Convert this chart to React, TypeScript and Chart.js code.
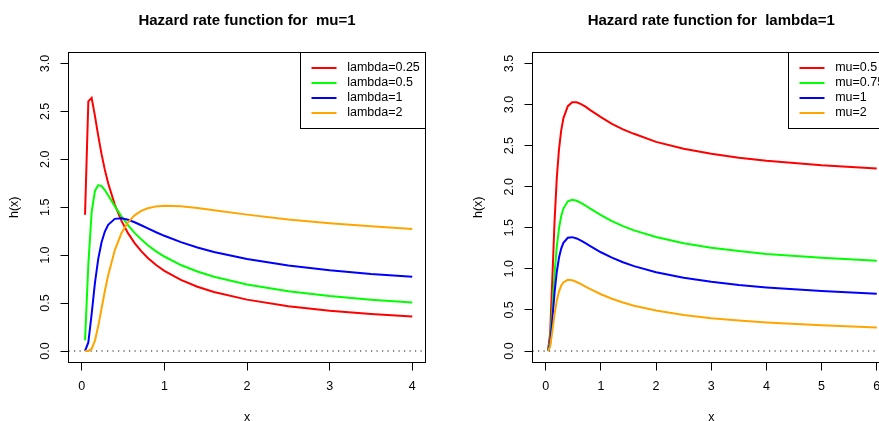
import React, { useEffect, useRef } from "react";
import { Chart, registerables } from "chart.js";

Chart.register(...registerables);

// ---------------- data ----------------
// Left panel: mu = 1, different lambda
const xLeft = [0.04, 0.08, 0.12, 0.16, 0.2, 0.24, 0.28, 0.32, 0.4, 0.48, 0.56, 0.64, 0.72, 0.8, 0.9, 1.0, 1.2, 1.4, 1.6, 2.0, 2.5, 3.0, 3.5, 4.0];
const hLambda025 = [1.422, 2.605, 2.642, 2.454, 2.244, 2.054, 1.89, 1.75, 1.528, 1.36, 1.23, 1.126, 1.042, 0.971, 0.897, 0.837, 0.742, 0.671, 0.616, 0.536, 0.468, 0.421, 0.386, 0.359];
const hLambda05 = [0.111, 0.903, 1.448, 1.67, 1.731, 1.721, 1.68, 1.626, 1.512, 1.406, 1.313, 1.233, 1.165, 1.104, 1.04, 0.986, 0.897, 0.829, 0.775, 0.693, 0.623, 0.574, 0.536, 0.507];
const hLambda1 = [0.001, 0.089, 0.385, 0.71, 0.962, 1.135, 1.247, 1.317, 1.379, 1.386, 1.37, 1.343, 1.312, 1.279, 1.239, 1.202, 1.136, 1.08, 1.033, 0.959, 0.892, 0.842, 0.803, 0.774];
const hLambda2 = [0.0, 0.001, 0.021, 0.107, 0.26, 0.443, 0.626, 0.791, 1.051, 1.228, 1.343, 1.416, 1.462, 1.49, 1.509, 1.515, 1.51, 1.491, 1.468, 1.423, 1.372, 1.333, 1.303, 1.273];
const leftLabels = ["lambda=0.25", "lambda=0.5", "lambda=1", "lambda=2"];

// Right panel: lambda = 1, different mu
const xRight = [0.04, 0.08, 0.12, 0.16, 0.2, 0.24, 0.28, 0.32, 0.4, 0.48, 0.56, 0.64, 0.72, 0.8, 1.0, 1.2, 1.4, 1.6, 2.0, 2.5, 3.0, 3.5, 4.0, 5.0, 6.0];
const hMu05 = [0.001, 0.215, 0.885, 1.582, 2.102, 2.455, 2.684, 2.832, 2.981, 3.028, 3.028, 3.006, 2.975, 2.936, 2.847, 2.766, 2.698, 2.644, 2.546, 2.462, 2.4, 2.352, 2.315, 2.26, 2.222];
const hMu075 = [0.001, 0.12, 0.514, 0.941, 1.269, 1.494, 1.641, 1.734, 1.822, 1.841, 1.829, 1.803, 1.771, 1.736, 1.654, 1.582, 1.521, 1.469, 1.387, 1.312, 1.258, 1.216, 1.182, 1.135, 1.099];
const hMu1 = [0.001, 0.089, 0.385, 0.71, 0.962, 1.135, 1.247, 1.317, 1.379, 1.386, 1.37, 1.343, 1.312, 1.279, 1.202, 1.136, 1.08, 1.033, 0.959, 0.892, 0.842, 0.803, 0.774, 0.729, 0.697];
const hMu2 = [0.0, 0.056, 0.243, 0.452, 0.614, 0.724, 0.794, 0.835, 0.866, 0.861, 0.84, 0.813, 0.784, 0.756, 0.691, 0.636, 0.59, 0.552, 0.493, 0.439, 0.4, 0.37, 0.347, 0.312, 0.287];
const rightLabels = ["mu=0.5", "mu=0.75", "mu=1", "mu=2"];

const seriesColors = ["#FF0000", "#00FF00", "#0000FF", "#FFA500"];

const leftXTicks = [0, 1, 2, 3, 4];
const leftYTicks = [0, 0.5, 1, 1.5, 2, 2.5, 3];
const rightXTicks = [0, 1, 2, 3, 4, 5, 6];
const rightYTicks = [0, 0.5, 1, 1.5, 2, 2.5, 3, 3.5];

const leftTitle = "Hazard rate function for  mu=1";
const rightTitle = "Hazard rate function for  lambda=1";

// ---------------- styling ----------------
const FONT = "'Liberation Sans', Arial, Helvetica, sans-serif";
const BASE = 12.5;

const boxPlugin = {
  id: "rBox",
  afterDraw(chart: any) {
    const { ctx, chartArea: a } = chart;
    ctx.save();
    ctx.strokeStyle = "#000";
    ctx.lineWidth = 1;
    const l = Math.floor(a.left) + 0.5;
    const t = Math.floor(a.top) + 0.5;
    const r = Math.floor(a.right) + 0.5;
    const b = Math.floor(a.bottom) + 0.5;
    ctx.strokeRect(l, t, r - l, b - t);
    ctx.restore();
  },
};

const legendPlugin = {
  id: "rLegend",
  afterDraw(chart: any) {
    const { ctx, chartArea: a } = chart;
    const items = chart.data.datasets.filter((d: any) => d.label);
    ctx.save();
    ctx.font = `${BASE}px ${FONT}`;
    const maxW = Math.max(...items.map((d: any) => ctx.measureText(d.label).width));
    const w = 46.7 + maxW + 6.2;
    const right = Math.floor(a.right) + 0.5;
    const left = Math.round(a.right - w) + 0.5;
    const top = Math.floor(a.top) + 0.5;
    const h = 76;
    ctx.fillStyle = "#fff";
    ctx.fillRect(left, top, right - left, h);
    ctx.strokeStyle = "#000";
    ctx.lineWidth = 1;
    ctx.strokeRect(left, top, right - left, h);
    items.forEach((d: any, i: number) => {
      const y = Math.round(a.top + 16 + i * 15);
      ctx.strokeStyle = d.borderColor;
      ctx.lineWidth = 2;
      ctx.beginPath();
      ctx.moveTo(left + 11, y);
      ctx.lineTo(left + 36, y);
      ctx.stroke();
      ctx.fillStyle = "#000";
      ctx.textBaseline = "middle";
      ctx.textAlign = "left";
      ctx.fillText(d.label, left + 46.7, y);
    });
    ctx.restore();
  },
};

type PanelSpec = {
  title: string;
  xs: number[];
  ys: number[][];
  labels: string[];
  xMin: number;
  xMax: number;
  yMin: number;
  yMax: number;
  xTicks: number[];
  yTicks: number[];
  yAxisWidth: number;
  xAxisHeight: number;
  rightPad: number;
  yTickPad: number;
  yTitlePad: number;
};

function buildConfig(p: PanelSpec): any {
  const orders = [4, 3, 2, 1];
  const datasets: any[] = p.ys.map((ys, i) => ({
    label: p.labels[i],
    data: p.xs.map((x, j) => ({ x, y: ys[j] })),
    borderColor: seriesColors[i],
    backgroundColor: seriesColors[i],
    borderWidth: 2,
    pointRadius: 0,
    tension: 0,
    fill: false,
    order: orders[i],
  }));
  datasets.push({
    label: "",
    data: [
      { x: p.xMin, y: 0 },
      { x: p.xMax, y: 0 },
    ],
    borderColor: "#111",
    borderWidth: 1,
    borderDash: [1.2, 4.3],
    pointRadius: 0,
    fill: false,
    order: 5,
  });

  const gridOpts = {
    display: true,
    drawOnChartArea: false,
    drawTicks: true,
    tickLength: 8,
    color: "#000",
    lineWidth: 1,
  };
  const tickFont = { family: FONT, size: BASE };

  return {
    type: "line",
    data: { datasets },
    plugins: [boxPlugin, legendPlugin],
    options: {
      animation: false,
      responsive: false,
      maintainAspectRatio: false,
      devicePixelRatio: 1,
      events: [],
      layout: { padding: { left: 0, right: p.rightPad, top: 0, bottom: 0 } },
      plugins: {
        legend: { display: false },
        tooltip: { enabled: false },
        title: {
          display: true,
          text: p.title,
          fullSize: false,
          color: "#000",
          font: { family: FONT, size: 15, weight: "bold", lineHeight: 1.2 },
          padding: { top: 11.5, bottom: 22.5 },
        },
      },
      scales: {
        x: {
          type: "linear",
          min: p.xMin,
          max: p.xMax,
          afterBuildTicks: (axis: any) => {
            axis.ticks = p.xTicks.map((v) => ({ value: v }));
          },
          afterFit: (axis: any) => {
            axis.height = p.xAxisHeight;
          },
          grid: gridOpts,
          border: { display: false },
          ticks: {
            autoSkip: false,
            minRotation: 0,
            maxRotation: 0,
            padding: 9,
            color: "#000",
            font: tickFont,
            callback: (v: any) => String(v),
          },
          title: {
            display: true,
            text: "x",
            color: "#000",
            font: { family: FONT, size: BASE, lineHeight: 1.2 },
            padding: { top: 0, bottom: 15.4 },
          },
        },
        y: {
          type: "linear",
          min: p.yMin,
          max: p.yMax,
          afterBuildTicks: (axis: any) => {
            axis.ticks = p.yTicks.map((v) => ({ value: v }));
          },
          afterFit: (axis: any) => {
            axis.width = p.yAxisWidth;
          },
          grid: gridOpts,
          border: { display: false },
          ticks: {
            autoSkip: false,
            minRotation: 90,
            maxRotation: 90,
            crossAlign: "center",
            padding: p.yTickPad,
            color: "#000",
            font: tickFont,
            callback: (v: any) => Number(v).toFixed(1),
          },
          title: {
            display: true,
            text: "h(x)",
            color: "#000",
            font: { family: FONT, size: BASE, lineHeight: 1.2 },
            padding: { top: p.yTitlePad, bottom: 0 },
          },
        },
      },
    },
  };
}

const leftSpec: PanelSpec = {
  title: leftTitle,
  xs: xLeft,
  ys: [hLambda025, hLambda05, hLambda1, hLambda2],
  labels: leftLabels,
  xMin: -0.16,
  xMax: 4.16,
  yMin: -0.12,
  yMax: 3.12,
  xTicks: leftXTicks,
  yTicks: leftYTicks,
  yAxisWidth: 68.5,
  xAxisHeight: 77.5,
  rightPad: 14.5,
  yTickPad: 6.6,
  yTitlePad: 7.4,
};

const rightSpec: PanelSpec = {
  title: rightTitle,
  xs: xRight,
  ys: [hMu05, hMu075, hMu1, hMu2],
  labels: rightLabels,
  xMin: -0.24,
  xMax: 6.24,
  yMin: -0.14,
  yMax: 3.64,
  xTicks: rightXTicks,
  yTicks: rightYTicks,
  yAxisWidth: 92.5,
  xAxisHeight: 77.5,
  rightPad: 10,
  yTickPad: 6.1,
  yTitlePad: 31.4,
};

function Panel({ spec, left, width, height }: { spec: PanelSpec; left: number; width: number; height: number }) {
  const ref = useRef<HTMLCanvasElement>(null);
  useEffect(() => {
    if (!ref.current) return;
    const chart = new Chart(ref.current, buildConfig(spec));
    return () => chart.destroy();
  }, [spec]);
  return (
    <canvas
      ref={ref}
      width={width}
      height={height}
      style={{ position: "absolute", left, top: 0, width, height, display: "block" }}
    />
  );
}

export default function App() {
  return (
    <div
      style={{
        position: "fixed",
        left: 0,
        top: 0,
        width: 879,
        height: 421,
        overflow: "hidden",
        background: "#fff",
      }}
    >
      <Panel spec={leftSpec} left={0} width={440} height={440} />
      <Panel spec={rightSpec} left={440} width={460} height={440} />
    </div>
  );
}
